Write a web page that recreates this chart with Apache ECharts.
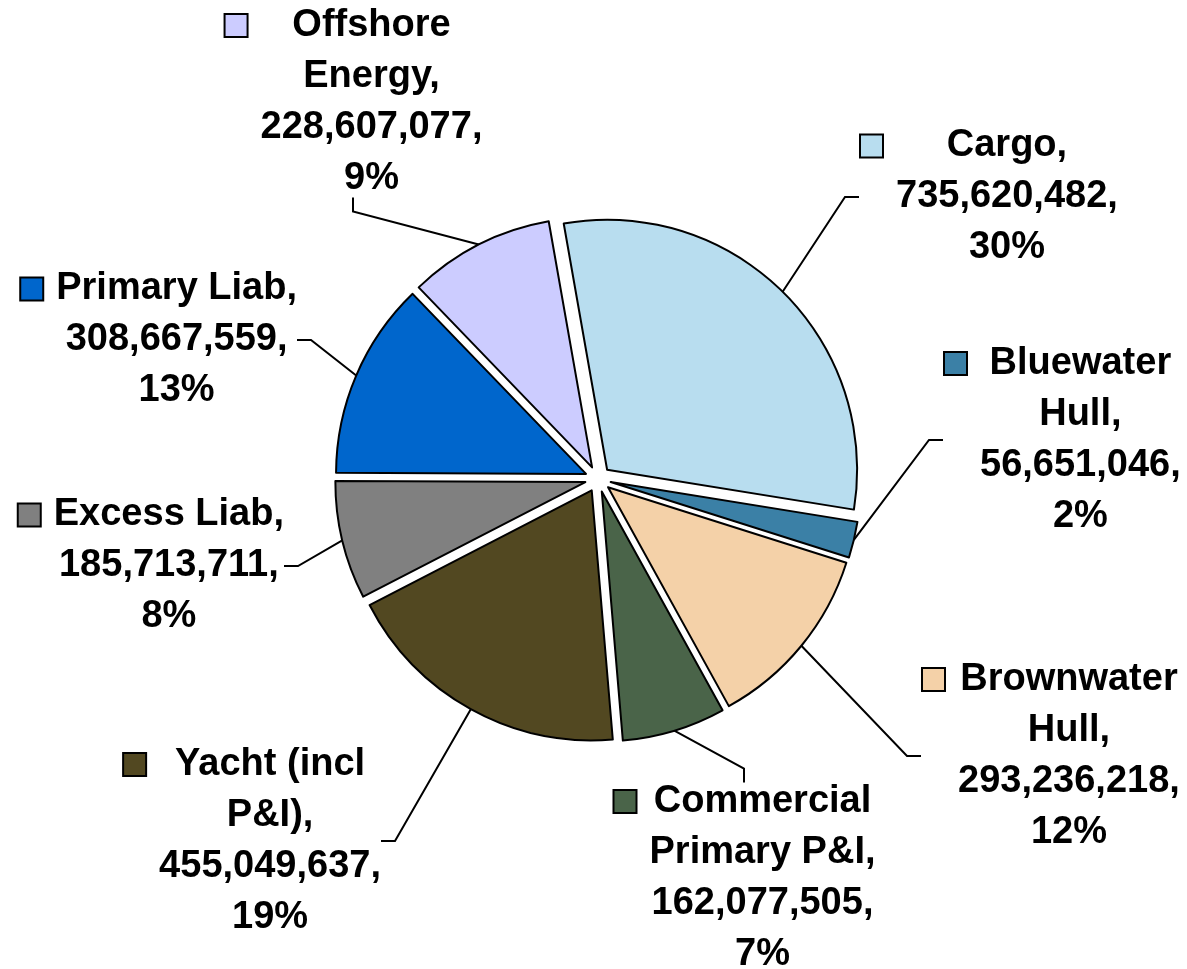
<!DOCTYPE html>
<html>
<head>
<meta charset="utf-8">
<script src="https://cdn.jsdelivr.net/npm/echarts@6/dist/echarts.min.js"></script>
<style>
  html, body { margin: 0; padding: 0; background: #ffffff; }
  #chart { width: 1187px; height: 969px; }
</style>
</head>
<body>
<div id="chart"></div>
<script>
// Gross written premium by line of business
const categories = ['Cargo', 'Bluewater Hull', 'Brownwater Hull', 'Commercial Primary P&I',
  'Yacht (incl P&I)', 'Excess Liab', 'Primary Liab', 'Offshore Energy'];
const premiums = [735620482, 56651046, 293236218, 162077505, 455049637, 185713711, 308667559, 228607077];
const sliceColors = ['#B8DDEF', '#3B80A6', '#F4D1A8', '#4A6449', '#524821', '#808080', '#0066CC', '#CCCCFF'];

// how many words stay on the first line of each label (0 = whole name on one line)
const firstLineWords = [0, 1, 1, 1, 2, 0, 0, 1];
// where each (padded) label block is pinned: [x, y, align, verticalAlign]
const labelAnchors = [
  [852, 197, 'left', 'middle'],
  [936, 440, 'left', 'middle'],
  [914, 756, 'left', 'middle'],
  [745, 772, 'center', 'top'],
  [390, 841, 'right', 'middle'],
  [293, 566, 'right', 'middle'],
  [306, 340, 'right', 'middle'],
  [354, 208, 'center', 'bottom']
];

const CENTER = [598, 479];
const RADIUS = 250;
const EXPLODE = 13;
const START_ANGLE = 100;

const FONT = { fontFamily: "'Liberation Sans', Arial, sans-serif", fontWeight: 'bold', fontSize: 38, color: '#000', lineHeight: 51 };
const KEY_SIZE = 21;
const KEY_GAP = 14;

const total = premiums.reduce((a, b) => a + b, 0);

const rich = {
  g: Object.assign({}, FONT, { width: KEY_GAP, align: 'left' }),
  s: Object.assign({}, FONT, { width: KEY_SIZE + KEY_GAP, align: 'left' }),
  t: Object.assign({}, FONT, { align: 'center' })
};
sliceColors.forEach((c, i) => {
  rich['k' + i] = {
    width: KEY_SIZE, height: KEY_SIZE, lineHeight: 51,
    backgroundColor: c, borderColor: '#000', borderWidth: 2, align: 'left'
  };
});

function labelText(i) {
  const words = categories[i].split(' ');
  const n = firstLineWords[i];
  const lines = [];
  if (n > 0) {
    lines.push(words.slice(0, n).join(' '));
    lines.push(words.slice(n).join(' ') + ',');
  } else {
    lines.push(categories[i] + ',');
  }
  lines.push(premiums[i].toLocaleString('en-US') + ',');
  lines.push(Math.round(premiums[i] / total * 100) + '%');
  return lines.map((l, j) => (j === 0 ? '{k' + i + '|}{g| }' : '{s| }') + '{t|' + l + '}').join('\n');
}

const chart = echarts.init(document.getElementById('chart'), null, { renderer: 'canvas' });
chart.setOption({
  animation: false,
  backgroundColor: '#ffffff',
  series: [
    // exploded slices
    {
      type: 'pie',
      center: CENTER,
      radius: RADIUS,
      startAngle: START_ANGLE,
      clockwise: true,
      selectedMode: 'multiple',
      selectedOffset: EXPLODE,
      emphasis: { disabled: true },
      itemStyle: { borderColor: '#000', borderWidth: 2 },
      select: { itemStyle: { borderColor: '#000', borderWidth: 2 } },
      label: { show: false },
      labelLine: { show: false },
      data: premiums.map((v, i) => ({
        name: categories[i],
        value: v,
        selected: true,
        itemStyle: { color: sliceColors[i] }
      }))
    },
    // data labels with leader lines; the ring reaches the outer edge of the exploded slices
    {
      type: 'pie',
      center: CENTER,
      radius: RADIUS + EXPLODE,
      startAngle: START_ANGLE,
      clockwise: true,
      silent: true,
      selectedMode: false,
      avoidLabelOverlap: false,
      emphasis: { disabled: true },
      itemStyle: { color: 'rgba(0,0,0,0)', borderWidth: 0 },
      label: {
        show: true,
        position: 'outside',
        overflow: 'none',
        padding: [4, 9, 4, 9],
        formatter: p => labelText(p.dataIndex),
        rich: rich
      },
      labelLine: {
        show: true,
        length: 10,
        length2: 14,
        smooth: false,
        lineStyle: { color: '#000', width: 2 }
      },
      labelLayout: p => {
        const a = labelAnchors[p.dataIndex];
        return { x: a[0], y: a[1], align: a[2], verticalAlign: a[3] };
      },
      data: premiums.map((v, i) => ({ name: categories[i], value: v }))
    }
  ]
});
</script>
</body>
</html>
